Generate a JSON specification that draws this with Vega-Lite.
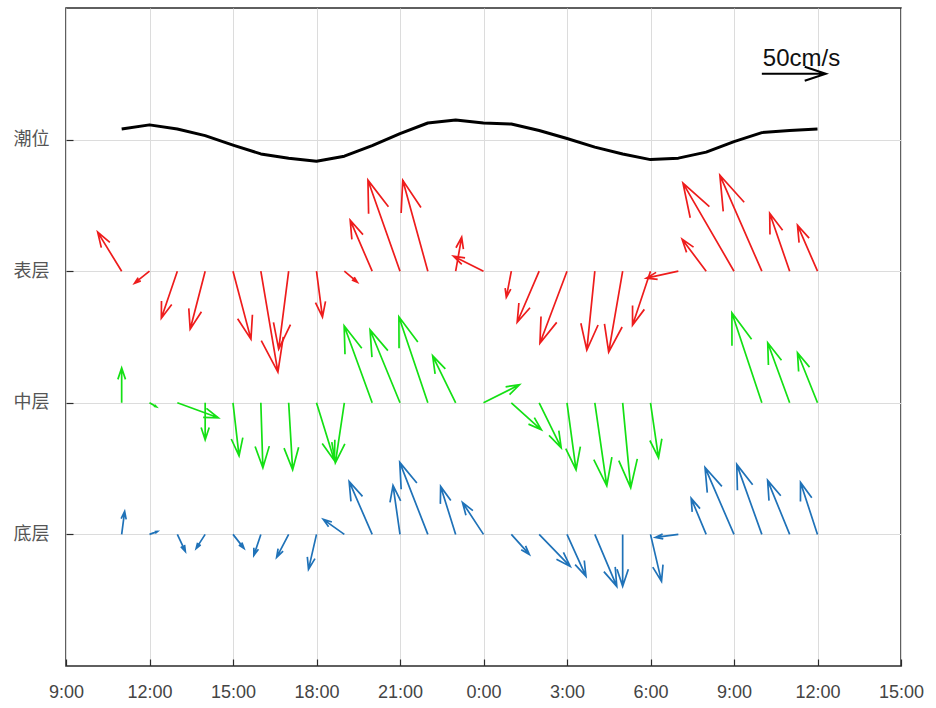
{
  "$schema": "https://vega.github.io/schema/vega-lite/v6.json",
  "width": 835,
  "height": 658,
  "autosize": {"type": "none"},
  "padding": {"left": 66, "top": 8, "right": 35, "bottom": 42},
  "background": "white",
  "config": {
    "view": {"stroke": "#2b2b2b", "strokeWidth": 1.5},
    "axis": {"gridColor": "#dcdcdc", "gridWidth": 1, "domain": false, "tickColor": "#2b2b2b", "tickWidth": 1.2}
  },
  "datasets": {
    "tide": [
      {"t": 11, "y": 4.080}, {"t": 12, "y": 4.112}, {"t": 13, "y": 4.081}, {"t": 14, "y": 4.030},
      {"t": 15, "y": 3.958}, {"t": 16, "y": 3.891}, {"t": 17, "y": 3.859}, {"t": 18, "y": 3.836},
      {"t": 19, "y": 3.874}, {"t": 20, "y": 3.954}, {"t": 21, "y": 4.046}, {"t": 22, "y": 4.126},
      {"t": 23, "y": 4.149}, {"t": 24, "y": 4.126}, {"t": 25, "y": 4.118}, {"t": 26, "y": 4.069},
      {"t": 27, "y": 4.008}, {"t": 28, "y": 3.943}, {"t": 29, "y": 3.890}, {"t": 30, "y": 3.848},
      {"t": 31, "y": 3.859}, {"t": 32, "y": 3.905}, {"t": 33, "y": 3.985}, {"t": 34, "y": 4.053},
      {"t": 35, "y": 4.069}, {"t": 36, "y": 4.080}
    ],
    "arrows": [
      {"t": 11, "y": 3, "layer": "表层", "speed": 35.8, "dir": 328.4},
      {"t": 12, "y": 3, "layer": "表层", "speed": 15.0, "dir": 231.3},
      {"t": 13, "y": 3, "layer": "表层", "speed": 38.8, "dir": 198.8},
      {"t": 14, "y": 3, "layer": "表层", "speed": 46.8, "dir": 194.5},
      {"t": 15, "y": 3, "layer": "表层", "speed": 54.9, "dir": 165.2},
      {"t": 16, "y": 3, "layer": "表层", "speed": 80.0, "dir": 170.4},
      {"t": 17, "y": 3, "layer": "表层", "speed": 61.4, "dir": 187.3},
      {"t": 18, "y": 3, "layer": "表层", "speed": 36.2, "dir": 172.6},
      {"t": 19, "y": 3, "layer": "表层", "speed": 13.3, "dir": 130.2},
      {"t": 20, "y": 3, "layer": "表层", "speed": 43.4, "dir": 336.7},
      {"t": 21, "y": 3, "layer": "表层", "speed": 75.4, "dir": 340.6},
      {"t": 22, "y": 3, "layer": "表层", "speed": 73.7, "dir": 344.6},
      {"t": 23, "y": 3, "layer": "表层", "speed": 27.0, "dir": 10.0},
      {"t": 24, "y": 3, "layer": "表层", "speed": 26.2, "dir": 296.6},
      {"t": 25, "y": 3, "layer": "表层", "speed": 20.7, "dir": 190.9},
      {"t": 26, "y": 3, "layer": "表层", "speed": 43.4, "dir": 203.3},
      {"t": 27, "y": 3, "layer": "表层", "speed": 60.1, "dir": 200.6},
      {"t": 28, "y": 3, "layer": "表层", "speed": 62.0, "dir": 185.8},
      {"t": 29, "y": 3, "layer": "表层", "speed": 64.2, "dir": 189.8},
      {"t": 30, "y": 3, "layer": "表层", "speed": 44.5, "dir": 198.4},
      {"t": 31, "y": 3, "layer": "表层", "speed": 25.6, "dir": 257.7},
      {"t": 32, "y": 3, "layer": "表层", "speed": 31.3, "dir": 323.1},
      {"t": 33, "y": 3, "layer": "表层", "speed": 79.5, "dir": 329.9},
      {"t": 34, "y": 3, "layer": "表层", "speed": 81.9, "dir": 336.4},
      {"t": 35, "y": 3, "layer": "表层", "speed": 47.9, "dir": 341.0},
      {"t": 36, "y": 3, "layer": "表层", "speed": 39.2, "dir": 336.5},
      {"t": 11, "y": 2, "layer": "中层", "speed": 27.3, "dir": 0.0},
      {"t": 12, "y": 2, "layer": "中层", "speed": 6.3, "dir": 119.7},
      {"t": 13, "y": 2, "layer": "中层", "speed": 34.1, "dir": 110.1},
      {"t": 14, "y": 2, "layer": "中层", "speed": 28.9, "dir": 180.0},
      {"t": 15, "y": 2, "layer": "中层", "speed": 41.7, "dir": 173.5},
      {"t": 16, "y": 2, "layer": "中层", "speed": 50.8, "dir": 178.2},
      {"t": 17, "y": 2, "layer": "中层", "speed": 52.4, "dir": 176.6},
      {"t": 18, "y": 2, "layer": "中层", "speed": 47.4, "dir": 162.8},
      {"t": 19, "y": 2, "layer": "中层", "speed": 47.4, "dir": 188.5},
      {"t": 20, "y": 2, "layer": "中层", "speed": 64.0, "dir": 340.0},
      {"t": 21, "y": 2, "layer": "中层", "speed": 61.7, "dir": 337.7},
      {"t": 22, "y": 2, "layer": "中层", "speed": 70.9, "dir": 341.4},
      {"t": 23, "y": 2, "layer": "中层", "speed": 40.9, "dir": 333.9},
      {"t": 24, "y": 2, "layer": "中层", "speed": 31.4, "dir": 63.4},
      {"t": 25, "y": 2, "layer": "中层", "speed": 31.5, "dir": 132.0},
      {"t": 26, "y": 2, "layer": "中层", "speed": 39.1, "dir": 153.9},
      {"t": 27, "y": 2, "layer": "中层", "speed": 52.8, "dir": 172.3},
      {"t": 28, "y": 2, "layer": "中层", "speed": 65.5, "dir": 171.8},
      {"t": 29, "y": 2, "layer": "中层", "speed": 66.7, "dir": 174.6},
      {"t": 30, "y": 2, "layer": "中层", "speed": 43.4, "dir": 171.7},
      {"t": 34, "y": 2, "layer": "中层", "speed": 74.1, "dir": 341.6},
      {"t": 35, "y": 2, "layer": "中层", "speed": 49.9, "dir": 339.9},
      {"t": 36, "y": 2, "layer": "中层", "speed": 42.1, "dir": 338.2},
      {"t": 11, "y": 1, "layer": "底层", "speed": 18.1, "dir": 7.4},
      {"t": 12, "y": 1, "layer": "底层", "speed": 6.7, "dir": 69.4},
      {"t": 13, "y": 1, "layer": "底层", "speed": 14.7, "dir": 154.8},
      {"t": 14, "y": 1, "layer": "底层", "speed": 13.0, "dir": 212.7},
      {"t": 15, "y": 1, "layer": "底层", "speed": 13.9, "dir": 141.8},
      {"t": 16, "y": 1, "layer": "底层", "speed": 17.3, "dir": 198.4},
      {"t": 17, "y": 1, "layer": "底层", "speed": 20.3, "dir": 207.6},
      {"t": 18, "y": 1, "layer": "底层", "speed": 28.0, "dir": 192.9},
      {"t": 19, "y": 1, "layer": "底层", "speed": 20.2, "dir": 305.5},
      {"t": 20, "y": 1, "layer": "底层", "speed": 45.1, "dir": 336.5},
      {"t": 21, "y": 1, "layer": "底层", "speed": 38.7, "dir": 351.9},
      {"t": 22, "y": 1, "layer": "底层", "speed": 60.4, "dir": 338.7},
      {"t": 23, "y": 1, "layer": "底层", "speed": 39.3, "dir": 342.6},
      {"t": 24, "y": 1, "layer": "底层", "speed": 29.9, "dir": 326.7},
      {"t": 25, "y": 1, "layer": "底层", "speed": 21.0, "dir": 138.0},
      {"t": 26, "y": 1, "layer": "底层", "speed": 34.8, "dir": 135.9},
      {"t": 27, "y": 1, "layer": "底层", "speed": 36.0, "dir": 155.7},
      {"t": 28, "y": 1, "layer": "底层", "speed": 44.1, "dir": 157.1},
      {"t": 29, "y": 1, "layer": "底层", "speed": 40.6, "dir": 180.0},
      {"t": 30, "y": 1, "layer": "底层", "speed": 37.7, "dir": 166.8},
      {"t": 31, "y": 1, "layer": "底层", "speed": 18.1, "dir": 262.6},
      {"t": 32, "y": 1, "layer": "底层", "speed": 30.5, "dir": 337.4},
      {"t": 33, "y": 1, "layer": "底层", "speed": 57.0, "dir": 336.6},
      {"t": 34, "y": 1, "layer": "底层", "speed": 58.1, "dir": 340.3},
      {"t": 35, "y": 1, "layer": "底层", "speed": 45.6, "dir": 337.8},
      {"t": 36, "y": 1, "layer": "底层", "speed": 42.7, "dir": 341.9}
    ],
    "scalebar": [{"t": 34, "y": 4.5, "speed": 50, "dir": 90, "label": "50cm/s"}]
  },
  "encoding": {
    "x": {
      "field": "t", "type": "quantitative",
      "scale": {"domain": [9, 39], "nice": false, "zero": false},
      "axis": {
        "title": null, "values": [9, 12, 15, 18, 21, 24, 27, 30, 33, 36, 39],
        "labelExpr": "(datum.value % 24) + ':00'",
        "labelFont": "Liberation Sans", "labelFontSize": 18, "labelColor": "#444444",
        "tickSize": -7, "labelPadding": 24, "labelFlush": false, "labelOverlap": false
      }
    },
    "y": {
      "field": "y", "type": "quantitative",
      "scale": {"domain": [0, 5], "nice": false, "zero": false},
      "axis": {
        "title": null, "values": [1, 2, 3, 4],
        "labelExpr": "['', '底层', '中层', '表层', '潮位'][datum.value]",
        "labelFont": "Noto Sans CJK SC", "labelFontSize": 18, "labelColor": "#555555",
        "tickSize": -7, "labelPadding": 24, "labelFlush": false, "labelOverlap": false
      }
    }
  },
  "layer": [
    {
      "data": {"name": "tide"},
      "mark": {"type": "line", "color": "black", "strokeWidth": 3, "strokeJoin": "round"}
    },
    {
      "data": {"name": "arrows"},
      "mark": {"type": "point", "shape": "M0,0L0,-1M-0.109,-0.67L0,-1L0.109,-0.67", "filled": false, "opacity": 1, "strokeWidth": 1.7},
      "encoding": {
        "color": {"field": "layer", "type": "nominal", "scale": {"domain": ["表层", "中层", "底层"], "range": ["#ee1c1c", "#14e014", "#1f72b8"]}, "legend": null},
        "size": {"field": "speed", "type": "quantitative", "scale": {"type": "pow", "exponent": 2, "domain": [0, 100], "range": [0, 65536], "nice": false, "zero": true}, "legend": null},
        "angle": {"field": "dir", "type": "quantitative", "scale": null}
      }
    },
    {
      "data": {"name": "scalebar"},
      "mark": {"type": "point", "shape": "M0,0L0,-1M-0.109,-0.67L0,-1L0.109,-0.67", "filled": false, "opacity": 1, "strokeWidth": 2, "color": "black"},
      "encoding": {
        "size": {"field": "speed", "type": "quantitative", "legend": null},
        "angle": {"field": "dir", "type": "quantitative", "scale": null}
      }
    },
    {
      "data": {"name": "scalebar"},
      "mark": {"type": "text", "align": "left", "baseline": "alphabetic", "dx": 1, "dy": -8, "font": "Liberation Sans", "fontSize": 24, "color": "#111111"},
      "encoding": {"text": {"field": "label"}}
    }
  ]
}
